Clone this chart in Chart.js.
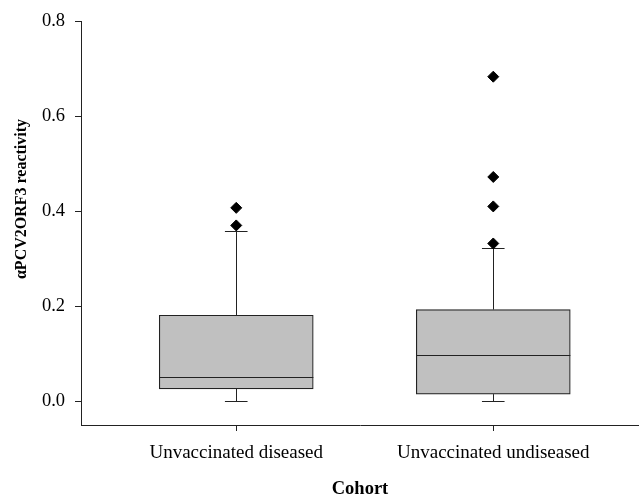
<!DOCTYPE html>
<html>
<head>
<meta charset="utf-8">
<script src="https://cdn.jsdelivr.net/npm/chart.js@4/dist/chart.umd.min.js"></script>
<style>
  html, body { margin: 0; padding: 0; background: #fff; overflow: hidden; }
</style>
</head>
<body>
<canvas id="boxChart" width="639" height="497"></canvas>
<script>
// box plot values
const categories = ['Unvaccinated diseased', 'Unvaccinated undiseased'];
const lowerWhisker = [0.0, 0.0];
const q1 = [0.026, 0.015];
const median = [0.052, 0.098];
const q3 = [0.181, 0.193];
const upperWhisker = [0.359, 0.322];
const outliers = [
    [0.370, 0.407],
    [0.332, 0.410, 0.472, 0.683]
];
const yTicks = [0.0, 0.2, 0.4, 0.6, 0.8];

const lineColor = '#222';
const serif = '"Liberation Serif", "Times New Roman", serif';

// boxes as floating bars, outliers as scatter points
const boxData = categories.map((c, i) => ({ x: i + 1, y: [q1[i], q3[i]] }));
const outlierData = [];
outliers.forEach((list, i) => {
    list.forEach(v => outlierData.push({ x: i + 1, y: v }));
});

// whiskers, caps and medians drawn through the chart scales
const boxLines = {
    id: 'boxLines',
    beforeDatasetsDraw(chart) {
        const { ctx, scales: { x, y } } = chart;
        ctx.save();
        ctx.strokeStyle = lineColor;
        ctx.lineWidth = 1;
        categories.forEach((c, i) => {
            const cx = Math.round(x.getPixelForValue(i + 1)) + 0.5;
            const capL = x.getPixelForValue(i + 1 - 0.044);
            const capR = x.getPixelForValue(i + 1 + 0.044);
            const segs = [[q3[i], upperWhisker[i]], [q1[i], lowerWhisker[i]]];
            segs.forEach(([from, to]) => {
                const y0 = y.getPixelForValue(from);
                const y1 = Math.round(y.getPixelForValue(to)) + 0.5;
                ctx.beginPath();
                ctx.moveTo(cx, y0);
                ctx.lineTo(cx, y1);
                ctx.moveTo(capL, y1);
                ctx.lineTo(capR, y1);
                ctx.stroke();
            });
        });
        ctx.restore();
    },
    afterDatasetsDraw(chart) {
        const { ctx, scales: { x, y } } = chart;
        ctx.save();
        ctx.strokeStyle = lineColor;
        ctx.lineWidth = 1;
        categories.forEach((c, i) => {
            const my = Math.round(y.getPixelForValue(median[i])) + 0.5;
            ctx.beginPath();
            ctx.moveTo(x.getPixelForValue(i + 1 - 0.3), my);
            ctx.lineTo(x.getPixelForValue(i + 1 + 0.3), my);
            ctx.stroke();
        });
        ctx.restore();
    },
    afterDraw(chart) {
        // y axis title, placed like the original (not centred on the axis)
        const { ctx } = chart;
        ctx.save();
        ctx.translate(22, 199);
        ctx.rotate(-Math.PI / 2);
        ctx.fillStyle = '#000';
        ctx.font = 'bold 16px ' + serif;
        ctx.textAlign = 'center';
        ctx.textBaseline = 'middle';
        ctx.fillText('αPCV2ORF3 reactivity', 0, 0);
        ctx.restore();
    }
};

new Chart(document.getElementById('boxChart'), {
    type: 'bar',
    data: {
        datasets: [{
            label: 'box',
            data: boxData,
            backgroundColor: '#c0c0c0',
            borderColor: lineColor,
            borderWidth: 1.2,
            borderSkipped: false,
            barThickness: 154
        }, {
            type: 'scatter',
            label: 'outliers',
            data: outlierData,
            pointStyle: 'rectRot',
            radius: 5.5,
            backgroundColor: '#000',
            borderColor: '#000',
            borderWidth: 1
        }]
    },
    options: {
        responsive: false,
        animation: false,
        events: [],
        layout: { autoPadding: false, padding: { top: 19, right: 0, bottom: 0, left: 0 } },
        plugins: {
            legend: { display: false },
            tooltip: { enabled: false }
        },
        scales: {
            x: {
                type: 'linear',
                min: 0.396,
                max: 2.567,
                offset: false,
                afterBuildTicks: s => { s.ticks = categories.map((c, i) => ({ value: i + 1 })); },
                afterFit: s => { s.height = 72; },
                grid: { display: true, offset: false, drawOnChartArea: false, drawTicks: true, tickLength: 6, color: lineColor },
                border: { display: true, color: lineColor, width: 1 },
                ticks: {
                    padding: 11,
                    color: '#000',
                    font: { family: serif, size: 19 },
                    callback: v => categories[v - 1],
                    maxRotation: 0,
                    autoSkip: false
                },
                title: {
                    display: true,
                    text: 'Cohort',
                    color: '#000',
                    font: { family: serif, size: 18.5, weight: 'bold', lineHeight: 0.8 },
                    padding: { top: 0, bottom: 0 }
                }
            },
            y: {
                min: -0.05,
                max: 0.8,
                afterBuildTicks: s => { s.ticks = yTicks.map(v => ({ value: v })); },
                afterFit: s => { s.width = 81; },
                grid: { display: true, drawOnChartArea: false, drawTicks: true, tickLength: 6, color: lineColor },
                border: { display: true, color: lineColor, width: 1 },
                ticks: {
                    padding: 10,
                    color: '#000',
                    font: { family: serif, size: 18.5 },
                    callback: v => v.toFixed(1)
                }
            }
        }
    },
    plugins: [boxLines]
});
</script>
</body>
</html>
